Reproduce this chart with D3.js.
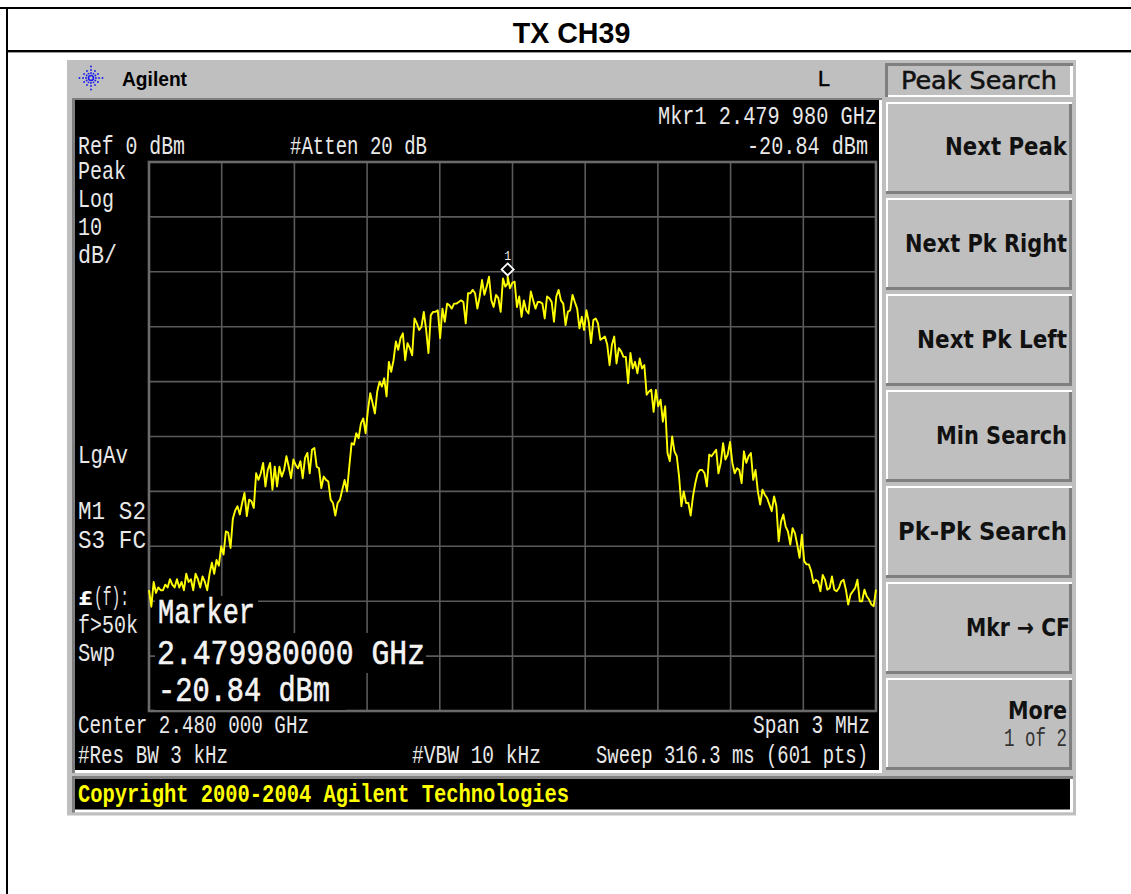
<!DOCTYPE html>
<html><head><meta charset="utf-8">
<script src="https://cdn.jsdelivr.net/npm/d3@7"></script>
<style>html,body{margin:0;padding:0;background:#fff}svg{display:block}</style>
</head><body><div id="c"></div>
<script>
const levelsLeft=[-78,-81,-76.5,-78.5,-77.5,-78,-78,-77,-77.5,-76,-77,-77.5,-76,-77.5,-76.5,-78,-75,-76.5,-76,-78,-75,-76,-77.5,-75.5,-76.5,-78,
-75,-73,-75,-72.5,-73.5,-70,-71.5,-67.3,-67.5,-70.3,-65,-63.5,-62.7,-64.2,-62.1,-60.3,-64.5,-61.5,-61.8,-63,-56.7,-57.9,-56.7,-54.8,-59.1,-56.1,-54.8,-59.7,-55.5,-59.1,-55.5,-57.3,-56.1,-53.6,-55.5,-57.6,-54.2,-55.2,-55.8,-54.5,-57.6,-53.9,-53,-56.7,-52.4,-52.1,-55.5,-55.8,-59.4,-57.3,-57.9,-58.2,-61.5,-62.1,-64.4,-62.1,-61.5,-59.7,-57.9,-60,-55.5,-51.2,-51.5,-49.4,-50.3,-47.6,-46.7,-49.4,-45.2,-42.1,-43.9,-45.8,-41.8,-40,-40.9,-39.4,-42.7,-36.4,-38.2,-36.1,-32.7,-34.2,-32.1,-31.2,-36.1,-33,-33.9,-35.2,-28.5,-29.4,-30.6,-30,-27.3,-30.6,-34.8,-27.9,-27.3,-27.3,-27,-32.1,-26.7,-29.1,-25.8,-26.1,-26.7,-25.8,-25.8,-25.5,-25.2,-25.5,-29.4,-23.9,-23.9,-23.3,-23.9,-26.7,-24.5,-21.5,-24.2,-22.7,-20.9,-25.2,-26.4,-24.2,-24.8,-27.3,-21.2,-22.7,-22.1];
const levelsRight=[-20.84,-23,-22,-21.8,-26.4,-24.5,-28.2,-25.2,-27,-27.6,-23.6,-25.2,-26.7,-25.5,-25.5,-25.8,-28.5,-24.5,-24.8,-25.5,-29.1,-24.5,-23.3,-25.2,-25.8,-29.7,-27.3,-27,-24.2,-25.5,-26.7,-30.3,-28.2,-30.6,-27,-29.1,-33,-28.8,-28.5,-29.4,-32.4,-32.1,-31.8,-33.3,-37,-33.3,-31.8,-36.7,-33.9,-34.5,-35.5,-35.5,-40.3,-34.8,-37.6,-36.4,-38.5,-35.8,-37.6,-37,-42.4,-41.8,-41.5,-45.5,-41.5,-44.5,-43.3,-47.3,-44.5,-53,-54.5,-50,-52.7,-53.6,-57.3,-62.7,-60,-62.1,-62.1,-64.4,-60.9,-58.5,-56.7,-56.1,-56.1,-56.7,-59.1,-53.3,-53.6,-53,-52.4,-56.7,-54.8,-51.2,-54.2,-53.3,-51,-54.8,-56.7,-55.8,-56.1,-58.5,-52.7,-54.8,-53.6,-53,-57.9,-56.1,-60,-62.4,-59.7,-60.6,-61.2,-62.4,-63.6,-60.9,-62.7,-69.1,-65.5,-64.2,-66.4,-67.3,-69.7,-66.7,-67.6,-69.7,-72.1,-67.9,-72.7,-73.3,-73.3,-74.5,-76.7,-76.1,-76.4,-78.2,-75.2,-76.1,-77.9,-77.6,-75.5,-77.9,-78.2,-77.6,-76.4,-76.1,-77.9,-80.6,-78.8,-78.2,-77.6,-76.1,-80,-80,-77.9,-79.1,-79.7,-80.6,-80.9,-77.9];
const freqTicks=[-1.2,-0.9,-0.6,-0.3,0,0.3,0.6,0.9,1.2];
const levelTicks=[-10,-20,-30,-40,-50,-60,-70,-80,-90];
const markerFreq=-0.02, markerLevel=-20.84;
const softKeys=["Next Peak","Next Pk Right","Next Pk Left","Min Search","Pk-Pk Search","Mkr \u2192 CF","More"];
const screenLabels=[
 ["Ref 0 dBm",78,154,107],["#Atten 20 dB",290,154,137],["Mkr1  2.479 980 GHz",658,124,219],["-20.84 dBm",747,154,121],
 ["Peak",78,179,48],["Log",78,207,36],["10",78,235,24],["dB/",78,263,39],["LgAv",78,463,50],["M1  S2",78,519,68],["S3  FC",78,548,68],
 ["(f):",94,605,35],["f>50k",78,633,60],["Swp",78,661,37],
 ["Center 2.480 000 GHz",78,733,231],["Span 3 MHz",753,733,117],["#Res BW 3 kHz",78,763,150],["#VBW 10 kHz",412,763,129],["Sweep 316.3 ms (601 pts)",596,763,272]];

const svg=d3.select("#c").append("svg").attr("width",1131).attr("height",894);
const MONO="'Liberation Mono',monospace", SANS="'DejaVu Sans',sans-serif", ARIAL="'Liberation Sans',Arial,sans-serif";
function rect(x,y,w,h,f){return svg.append("rect").attr("x",x).attr("y",y).attr("width",w).attr("height",h).attr("fill",f);}
function label(s,x,y,len,o={}){
 const t=svg.append("text").attr("transform",`translate(${x},${y}) scale(1,${o.sy||1.32})`)
  .attr("font-family",o.font||MONO).attr("font-size",o.size||20).attr("fill",o.fill||"#e8e8e8")
  .attr("font-weight",o.weight||"normal").text(s);
 if(len)t.attr("textLength",len).attr("lengthAdjust","spacingAndGlyphs");
 if(o.stroke)t.attr("stroke",o.fill).attr("stroke-width",o.stroke);
 return t;}

// page table
rect(0,7,1131,2,"#000");rect(6,50,1125,2.4,"#000");rect(6,7,2,887,"#000");
svg.append("text").attr("x",571.5).attr("y",43).attr("text-anchor","middle").attr("font-family",ARIAL).attr("font-weight","bold").attr("font-size",28.6).attr("fill","#000").text("TX CH39");

// instrument body
rect(67,60,1009,755.5,"#bfbfbf");
rect(72,98,810,675,"#7f7f7f");rect(75,100,807,673,"#fff");rect(75,100,804,670,"#000");
// header
label("Agilent",122,86,65,{font:ARIAL,weight:"bold",size:21,fill:"#000",sy:1});
label("L",818,86,12,{font:ARIAL,size:22,fill:"#000",sy:1,stroke:0.5});
const logo=svg.append("g").attr("transform","translate(91,78)");
d3.range(12).forEach(k=>{const a=k*Math.PI/6;[2.5,5,8,11.5].forEach(r=>{ if(r>10&&k%3!==0)return;
 logo.append("circle").attr("cx",Math.cos(a)*r).attr("cy",Math.sin(a)*r).attr("r",0.95).attr("fill","#1c1cf0");});});
// softkeys
rect(885,63,188,34,"#7f7f7f");rect(888,66,185,31,"#fff");rect(888,66,182,29,"#bfbfbf");
label("Peak Search",901,89,156,{font:SANS,size:23,fill:"#111",sy:1.1,stroke:0.5});
const keyTop=[102,198,294,390,486,582,678],keyH=[92,92,92,92,92,92,92];
const keyRight=[1067,1067,1067,1067,1067,1070,1067],keyLeft=[945,905,917,936,898,966,1008];
const keyBase=[155,252,348,444,540,636,719];
softKeys.forEach((k,i)=>{
 rect(886,keyTop[i],186,keyH[i],"#7f7f7f");
 rect(886,keyTop[i],186,2,"#fff");rect(886,keyTop[i],2,keyH[i]-3,"#fff");
 rect(888,keyTop[i]+2,181,keyH[i]-5,"#bfbfbf");
 label(k,keyLeft[i],keyBase[i],keyRight[i]-keyLeft[i],{font:SANS,weight:"bold",size:21,fill:"#111",sy:1.17});
});
label("1 of 2",1004,746,63,{size:20,fill:"#333",sy:1.3});
// copyright
rect(72,776,1001,36.5,"#7f7f7f");rect(75,779,998,33.5,"#fff");rect(75,779,995,30.5,"#000");
label("Copyright 2000-2004 Agilent Technologies",78,802,491,{weight:"bold",size:20,fill:"#ffff00",sy:1.25});

// plot
const x=d3.scaleLinear().domain([-1.5,1.5]).range([149,876]);
const y=d3.scaleLinear().domain([0,-100]).range([162,711]);
const grid=svg.append("g").attr("stroke","#5a5a5a").attr("stroke-width",1.6);
grid.selectAll(".v").data(freqTicks).join("line").attr("x1",d=>x(d)).attr("x2",d=>x(d)).attr("y1",y(0)).attr("y2",y(-100));
grid.selectAll(".h").data(levelTicks).join("line").attr("y1",d=>y(d)).attr("y2",d=>y(d)).attr("x1",x(-1.5)).attr("x2",x(1.5));
svg.append("rect").attr("x",x(-1.5)).attr("y",y(0)).attr("width",x(1.5)-x(-1.5)).attr("height",y(-100)-y(0)).attr("fill","none").attr("stroke","#6a6a6a").attr("stroke-width",2.6);

// trace
const fL=d3.scaleLinear().domain([0,levelsLeft.length-1]).range([-1.5,markerFreq]);
const fR=d3.scaleLinear().domain([0,levelsRight.length-1]).range([markerFreq,1.5]);
const trace=levelsLeft.map((v,i)=>[fL(i),v]).concat(levelsRight.map((v,i)=>[fR(i),v]));
svg.append("path").datum(trace).attr("fill","none").attr("stroke","#ffff00").attr("stroke-width",1.9)
 .attr("stroke-linejoin","round").attr("d",d3.line().x(d=>x(d[0])).y(d=>y(d[1])));

// active marker box
rect(155,596,103,37,"#000");rect(155,633,271,40,"#000");rect(155,672,191,38,"#000");
label("Marker",158,623,97,{size:28,fill:"#f4f4f4",sy:1.25,stroke:0.5});
label("2.479980000 GHz",157,664,268,{size:28,fill:"#f4f4f4",sy:1.25,stroke:0.5});
label("-20.84 dBm",158,701,172,{size:28,fill:"#f4f4f4",sy:1.25,stroke:0.5});

// marker
const mx=x(markerFreq), my=y(markerLevel)-7;
svg.append("path").attr("d",`M${mx},${my-6}L${mx+6},${my}L${mx},${my+6}L${mx-6},${my}Z`).attr("fill","#000").attr("stroke","#fff").attr("stroke-width",1.8);
label("1",mx-3.5,my-9,7,{size:12,fill:"#eee",sy:1.1});

// screen annotations
screenLabels.forEach(l=>label(l[0],l[1],l[2],l[3]));
label("\u00a3",78,605,15,{font:"'DejaVu Sans Mono',monospace",weight:"bold",size:19,fill:"#fff",sy:1});
</script></body></html>
